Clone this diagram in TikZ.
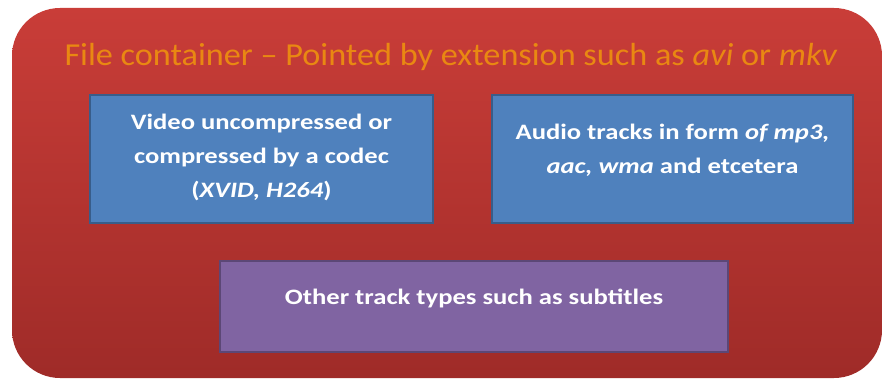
\documentclass[tikz,border=0pt]{standalone}
\usepackage{fontspec}
\setmainfont{Carlito}
\newfontfamily\titlefont[FakeStretch=1.07, Ligatures=TeX]{Carlito}
\newfontfamily\trackfont[FakeStretch=1.21, Ligatures=TeX]{Carlito}
\usepackage{tikz}
\usetikzlibrary{positioning}

\definecolor{boxred}{HTML}{C93D38}
\definecolor{boxreddark}{HTML}{9F2B28}
\definecolor{trackblue}{HTML}{4F81BD}
\definecolor{trackbluedark}{HTML}{385D8A}
\definecolor{trackpurple}{HTML}{8064A2}
\definecolor{trackpurpledark}{HTML}{5C4776}
\definecolor{titleorange}{HTML}{E98812}

\begin{document}
\begin{tikzpicture}[
  x=1pt, y=-1pt,
  container/.style={
    rectangle, rounded corners=48pt,
    top color=boxred, bottom color=boxreddark,
    minimum width=870pt, minimum height=370pt, inner sep=0pt
  },
  track/.style={
    draw=trackbluedark, line width=1.8pt, fill=trackblue,
    rectangle, inner sep=0pt
  },
  tracktext/.style={
    text=white, align=center, inner sep=0pt,
    font=\trackfont\fontsize{22}{34}\selectfont\bfseries
  }
]
\useasboundingbox (0,0) rectangle (883,379);

% --- outer container ---
\node[container] (file) at (447,193) {};
\node[text=titleorange, font=\titlefont\fontsize{32}{36}\selectfont, anchor=base]
  (title) at (451,66) {File container – Pointed by extension such as \textit{avi} or \textit{mkv}};

% --- streams inside ---
\node[track, minimum width=343pt, minimum height=128pt] (video) at (261.5,159) {};
\node[track, minimum width=361pt, minimum height=128pt] (audio) at (672.5,159) {};
\node[track, draw=trackpurpledark, fill=trackpurple,
      minimum width=508pt, minimum height=91pt] (other) at (474,306.5) {};

\node[tracktext] (videotext) at (261.5,157)
  {Video uncompressed or\\compressed by a codec\\(\textit{XVID, H264})};
\node[tracktext] (audiotext) at (672.5,150)
  {Audio tracks in form \textit{of mp3,}\\\textit{aac, wma} and etcetera};
\node[tracktext] (othertext) at (474,298)
  {Other track types such as subtitles};

\end{tikzpicture}
\end{document}
